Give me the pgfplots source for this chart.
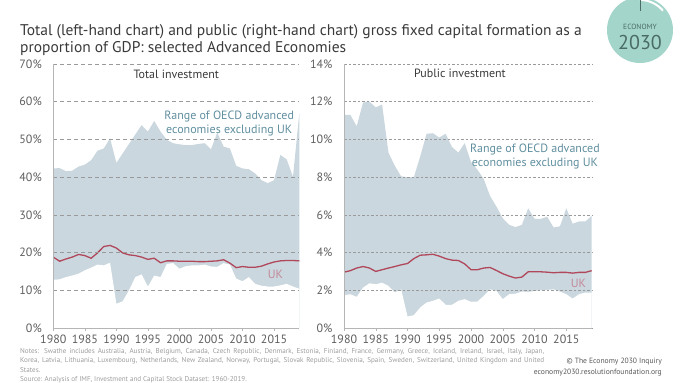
\documentclass[border=0pt]{standalone}
\usepackage{fontspec}
\setmainfont{PT Sans}
\usepackage{pgfplots}
\pgfplotsset{compat=1.18}
\usepackage{pgfplotstable}

\definecolor{band}{HTML}{CAD7DE}
\definecolor{ukline}{HTML}{B0475B}
\definecolor{uklabel}{HTML}{C48A99}
\definecolor{rangetxt}{HTML}{5F8E9E}
\definecolor{gridc}{HTML}{9A9A9A}
\definecolor{axisc}{HTML}{B5B5B5}
\definecolor{tickc}{HTML}{5E5E5E}
\definecolor{titlec}{HTML}{3A3A3A}
\definecolor{logo}{HTML}{A3D5CA}
\definecolor{logotext}{HTML}{4A6B66}
\definecolor{notec}{HTML}{9C9C9C}

\pgfplotstableread{
year lo up uk
1980 12.8 42.3 18.8
1981 12.9 42.4 17.7
1982 13.5 41.6 18.3
1983 13.9 41.7 18.8
1984 14.4 42.8 19.5
1985 15.3 43.3 19.2
1986 16.0 44.5 18.5
1987 16.8 47.0 19.9
1988 16.6 47.6 21.6
1989 17.3 50.3 21.9
1990 6.4 43.8 21.2
1991 7.1 46.3 19.9
1992 10.0 48.8 19.4
1993 13.5 51.3 19.2
1994 14.2 53.8 18.8
1995 11.0 52.1 18.2
1996 13.9 54.9 18.5
1997 13.5 52.1 17.3
1998 17.0 49.9 17.8
1999 17.2 49.0 17.8
2000 15.7 48.7 17.7
2001 16.4 48.5 17.7
2002 16.6 48.5 17.7
2003 16.6 48.8 17.6
2004 16.8 49.0 17.6
2005 16.3 47.4 17.7
2006 16.2 51.8 17.8
2007 17.2 48.1 18.1
2008 16.8 47.6 17.2
2009 13.1 43.0 16.0
2010 12.4 42.3 16.3
2011 13.5 42.1 16.1
2012 11.7 41.0 16.1
2013 11.2 39.2 16.4
2014 11.0 38.4 17.0
2015 11.0 39.2 17.5
2016 11.3 45.9 17.8
2017 11.7 44.7 17.9
2018 11.0 40.1 17.9
2019 10.4 57.0 17.8
}\totaldata

\pgfplotstableread{
year lo up uk
1980 1.74 11.30 2.96
1981 1.79 11.30 3.04
1982 1.65 10.70 3.18
1983 2.14 11.96 3.26
1984 2.37 12.00 3.18
1985 2.32 11.70 3.00
1986 2.40 11.85 3.09
1987 2.23 9.30 3.18
1988 1.88 8.60 3.26
1989 2.05 8.04 3.35
1990 0.61 8.00 3.42
1991 0.68 8.00 3.68
1992 1.09 9.10 3.86
1993 1.35 10.30 3.88
1994 1.44 10.33 3.91
1995 1.56 10.10 3.81
1996 1.23 10.30 3.68
1997 1.23 9.60 3.60
1998 1.44 9.30 3.58
1999 1.53 9.80 3.40
2000 1.39 8.80 3.09
2001 1.40 8.40 3.09
2002 1.70 7.90 3.18
2003 2.05 7.00 3.21
2004 1.96 6.44 3.05
2005 1.53 5.82 2.88
2006 1.79 5.47 2.75
2007 1.82 5.35 2.65
2008 1.93 5.47 2.70
2009 1.91 6.35 2.98
2010 1.96 5.79 2.98
2011 2.00 5.79 2.98
2012 2.02 5.90 2.96
2013 2.05 5.33 2.93
2014 1.93 5.39 2.95
2015 1.79 6.35 2.95
2016 1.56 5.53 2.91
2017 1.79 5.65 2.95
2018 1.88 5.65 2.95
2019 1.88 5.95 3.04
}\publicdata

\pgfplotsset{rfstyle/.style={
  scale only axis, height=264bp, xmin=1980, xmax=2019, ymin=0,
  axis x line*=bottom, axis y line*=left,
  x axis line style={draw=axisc}, y axis line style={draw=axisc},
  xtick={1980,1985,...,2015},
  /pgf/number format/assume math mode=true,
  xticklabel style={font=\fontsize{12bp}{12bp}\selectfont, text=tickc, /pgf/number format/1000 sep={}},
  yticklabel style={font=\fontsize{12bp}{12bp}\selectfont, text=tickc, xshift=-5bp},
  ytick style={draw=none}, xtick style={draw=axisc},
  tick align=outside, major tick length=3bp,
  ymajorgrids, grid style={gridc, dash pattern=on 4bp off 3bp, line width=0.6pt},
  axis on top, clip=false,
}}

\begin{document}
\begin{tikzpicture}
\useasboundingbox (0,0) rectangle (680bp,383bp);

% left chart
\begin{axis}[rfstyle, at={(53.3bp,55bp)}, anchor=south west, width=246bp,
  ymax=70, ytick={0,10,...,70}, yticklabel={\pgfmathprintnumber{\tick}\%}]
\addplot[fill=band, draw=none] table[x=year, y=up] {\totaldata} \closedcycle;
\addplot[fill=white, draw=none] table[x=year, y=lo] {\totaldata} \closedcycle;
\addplot[ukline, line width=1.3pt] table[x=year, y=uk] {\totaldata};
\node[font=\fontsize{12bp}{12bp}\selectfont, text=titlec] at (rel axis cs:0.5,0.962) {Total investment};
\node[font=\fontsize{12bp}{14bp}\selectfont, text=rangetxt, align=center] at (rel axis cs:0.715,0.773) {Range of OECD advanced\\economies excluding UK};
\node[font=\fontsize{12bp}{12bp}\selectfont, text=uklabel] at (axis cs:2015.2,14.3) {UK};
\end{axis}

% right chart
\begin{axis}[rfstyle, at={(344bp,55bp)}, anchor=south west, width=247.7bp,
  ymax=14, ytick={0,2,...,14}, yticklabel={\pgfmathprintnumber{\tick}\%},
  grid style={gridc, dash pattern=on 2.5bp off 2bp, line width=0.5pt}]
\addplot[fill=band, draw=none] table[x=year, y=up] {\publicdata} \closedcycle;
\addplot[fill=white, draw=none] table[x=year, y=lo] {\publicdata} \closedcycle;
\addplot[ukline, line width=1.3pt] table[x=year, y=uk] {\publicdata};
\node[font=\fontsize{12bp}{12bp}\selectfont, text=titlec] at (rel axis cs:0.468,0.966) {Public investment};
\node[font=\fontsize{12bp}{14bp}\selectfont, text=rangetxt, align=center] at (rel axis cs:0.771,0.65) {Range of OECD advanced\\economies excluding UK};
\node[font=\fontsize{12bp}{12bp}\selectfont, text=uklabel] at (axis cs:2016.9,2.39) {UK};
\end{axis}

% title
\node[anchor=base west, font=\fontsize{15.5bp}{17bp}\selectfont, text=titlec, inner sep=0] at (20bp,347bp) {Total (left-hand chart) and public (right-hand chart) gross fixed capital formation as a};
\node[anchor=base west, font=\fontsize{15.5bp}{17bp}\selectfont, text=titlec, inner sep=0] at (20bp,330bp) {proportion of GDP: selected Advanced Economies};

% logo
\fill[logo] (640bp,353bp) circle (33bp);
\draw[white, line width=2pt] (640bp,383bp) arc[start angle=90, end angle=40, radius=30bp];
\draw[logotext, line width=1pt] (640bp,383bp) -- (640bp,372bp);
\node[font=\fontsize{7.5bp}{8bp}\selectfont, text=logotext] at (640bp,356bp) {ECONOMY};
\node[font=\fontsize{20bp}{20bp}\selectfont, text=logotext] at (640bp,340bp) {2030};

% notes
\begin{scope}[every node/.style={anchor=base west, inner sep=0, font=\fontsize{7.1bp}{8bp}\selectfont, text=notec}]
\node at (20bp,30bp) {\makebox[524bp][s]{Notes: Swathe includes Australia, Austria, Belgium, Canada, Czech Republic, Denmark, Estonia, Finland, France, Germany, Greece, Iceland, Ireland, Israel, Italy, Japan,}};
\node at (20bp,20.5bp) {\makebox[524bp][s]{Korea, Latvia, Lithuania, Luxembourg, Netherlands, New Zealand, Norway, Portugal, Slovak Republic, Slovenia, Spain, Sweden, Switzerland, United Kingdom and United}};
\node at (20bp,11bp) {States.};
\node at (20bp,1.5bp) {Source: Analysis of IMF, Investment and Capital Stock Dataset: 1960-2019.};
\end{scope}
\node[anchor=base east, inner sep=0, font=\fontsize{7.6bp}{9bp}\selectfont, text=titlec!85] at (662bp,19.5bp) {\copyright{} The Economy 2030 Inquiry};
\node[anchor=base east, inner sep=0, font=\fontsize{7.6bp}{9bp}\selectfont, text=titlec!85] at (662bp,9bp) {economy2030.resolutionfoundation.org};
\end{tikzpicture}
\end{document}
